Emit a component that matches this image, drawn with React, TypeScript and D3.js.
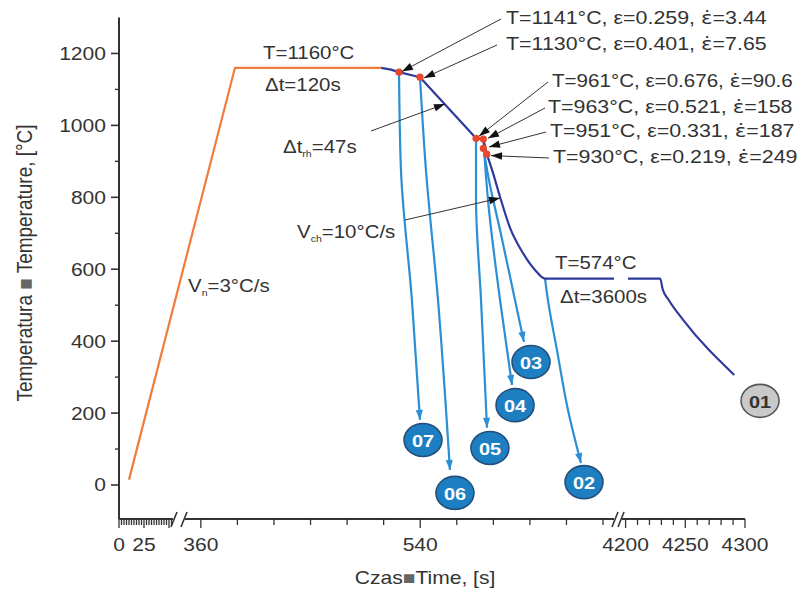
import * as d3 from 'd3'

const W = 797
const H = 594
const SX = 1.17 // the source picture is stretched sideways, text follows it
const FONT = '"Liberation Sans", Arial, sans-serif'

// broken time axis: 0..54 // 347..699 // 4197..4300
const T_DOMAIN = [0, 54, 347, 699, 4197, 4300]
const T_RANGE = [119, 173, 185, 614, 622, 745]

const Y_MAJOR = [0, 200, 400, 600, 800, 1000, 1200]
const Y_MINOR = [100, 300, 500, 700, 900, 1100]
const X_LABELS = [0, 25, 360, 540, 4200, 4250, 4300]
const X_MAJOR = [0, 25, 50, 360, 540, 4200, 4250, 4300]

// [time s, temperature °C]
const HEATING: [number, number][] = [[10, 15], [388, 1160], [508, 1160]]
const PATH_01_PASSES: [number, number][] = [
  [508, 1160], [516, 1155], [522.6, 1148], [539.8, 1134], [585.8, 964], [591.8, 962], [594.6, 920],
]
const PATH_01_COOL: [number, number][] = [
  [594.6, 920], [599.7, 868], [605.5, 801], [613.7, 715], [624.3, 645], [634.2, 598],
  [642.4, 574], [699, 574],
]
const PATH_01_HOLD: [number, number][] = [
  [4202, 574], [4229, 574], [4231, 545], [4236, 515], [4248, 460], [4291, 306],
]
const DEFORM_DOTS: [number, number][] = [
  [522.6, 1148], [539.8, 1134], [585.8, 964], [591.8, 962], [591.8, 936], [594.6, 920],
]

const QUENCH_IDS = ['07', '06', '05', '04', '03', '02']
const QUENCH_PATHS: [number, number][][] = [
  [[522.6, 1148], [524.2, 876], [533.2, 514], [539.8, 181]],
  [[539.8, 1134], [544.7, 876], [554.6, 514], [564.4, 42]],
  [[585.8, 964], [585.8, 793], [589.9, 514], [594.8, 159]],
  [[591.8, 962], [595.6, 793], [605.5, 514], [615.3, 278]],
  [[591.8, 937], [597.2, 834], [605.5, 709], [617.8, 514], [625.1, 398]],
  [[642.4, 574], [644.8, 514], [652.2, 375], [661.2, 209], [671.9, 61]],
]
const BADGES: { id: string; t: number; T: number }[] = [
  { id: '07', t: 542.3, T: 125 },
  { id: '06', t: 568.5, T: -22 },
  { id: '05', t: 597.2, T: 103 },
  { id: '04', t: 617.8, T: 222 },
  { id: '03', t: 630.9, T: 342 },
  { id: '02', t: 674.4, T: 8 },
  { id: '01', t: 4312.6, T: 234 },
]

// deformation passes: temperature, strain, strain rate
const PASS_TEMP = ['1141', '1130', '961', '963', '951', '930']
const PASS_STRAIN = ['0.259', '0.401', '0.676', '0.521', '0.331', '0.219']
const PASS_RATE = ['3.44', '7.65', '90.6', '158', '187', '249']
// where each leader points to, in data units
const PASS_TIPS: [number, number][] = [
  [525.0, 1150], [543.1, 1132], [588.2, 970], [595.6, 964], [596.4, 940], [598.1, 916],
]
// label placement (px): text start x, centre y, leader start x
const PASS_POS = [
  [506, 18, 501], [506, 44, 497], [552, 81, 548], [548, 107, 545], [550, 131, 546], [553, 157, 549],
]

const C_ORANGE = '#ee7d3b'
const C_NAVY = '#2e3a9c'
const C_BLUE = '#2a8fd4'
const C_BADGE = '#1d7fc2'
const C_RED = '#e7472c'
const C_TEXT = '#333'

function head(tip: [number, number], from: [number, number], len = 10, half = 3.6): string {
  const dx = tip[0] - from[0], dy = tip[1] - from[1]
  const L = Math.hypot(dx, dy) || 1
  const ux = dx / L, uy = dy / L
  const bx = tip[0] - ux * len, by = tip[1] - uy * len
  return `M${tip[0]},${tip[1]}L${bx - uy * half},${by + ux * half}L${bx + uy * half},${by - ux * half}Z`
}

function Txt({ x, y, size, anchor = 'start', fill = C_TEXT, weight = 'normal', children }:
  { x: number, y: number, size: number, anchor?: string, fill?: string, weight?: string, children: any }) {
  return (
    <g transform={`translate(${x},${y}) scale(${SX},1)`}>
      <text x={0} y={0} fontSize={size} textAnchor={anchor} dominantBaseline="central"
        fill={fill} fontWeight={weight} fontFamily={FONT}>{children}</text>
    </g>
  )
}

export default function App() {
  const x = d3.scaleLinear().domain(T_DOMAIN).range(T_RANGE)
  const y = d3.scaleLinear().domain([0, 1300]).range([485, 17.5])
  const px = (d: [number, number]): [number, number] => [x(d[0]), y(d[1])]

  const lineLin = d3.line<[number, number]>().x(d => x(d[0])).y(d => y(d[1]))
  const lineX = d3.line<[number, number]>().x(d => x(d[0])).y(d => y(d[1])).curve(d3.curveMonotoneX)
  const lineY = d3.line<[number, number]>().x(d => x(d[0])).y(d => y(d[1])).curve(d3.curveMonotoneY)

  const axisY = 519
  const yAxisX = x(0)

  const seg1 = d3.range(0, 52.6, 2.5)
  const seg2 = d3.range(360, 691, 30)
  const seg3 = d3.range(4200, 4301, 10)
  const xTicks = [...seg1, ...seg2, ...seg3]

  const breaks = [[173, 185], [614, 622]]

  return (
    <svg width={W} height={H} style={{ position: 'absolute', left: 0, top: 0, background: '#fff' }}>
      {/* y axis */}
      <line x1={yAxisX} x2={yAxisX} y1={y(1300)} y2={axisY} stroke={C_TEXT} strokeWidth={2} />
      {Y_MAJOR.map(v => (
        <g key={'ym' + v}>
          <line x1={yAxisX - 8} x2={yAxisX} y1={y(v)} y2={y(v)} stroke={C_TEXT} strokeWidth={1.6} />
          <Txt x={106} y={y(v)} size={18} anchor="end">{v}</Txt>
        </g>
      ))}
      {Y_MINOR.map(v => (
        <line key={'yn' + v} x1={yAxisX - 4} x2={yAxisX} y1={y(v)} y2={y(v)} stroke={C_TEXT} strokeWidth={1.4} />
      ))}

      {/* broken x axis */}
      <line x1={T_RANGE[0]} x2={T_RANGE[1]} y1={axisY} y2={axisY} stroke={C_TEXT} strokeWidth={2} />
      <line x1={T_RANGE[2]} x2={T_RANGE[3]} y1={axisY} y2={axisY} stroke={C_TEXT} strokeWidth={2} />
      <line x1={T_RANGE[4]} x2={T_RANGE[5]} y1={axisY} y2={axisY} stroke={C_TEXT} strokeWidth={2} />
      {breaks.map(([a, b], i) => (
        <g key={'br' + i} stroke={C_TEXT} strokeWidth={1.6}>
          <line x1={a - 2} y1={axisY + 8} x2={a + 4} y2={axisY - 7} />
          <line x1={b - 4} y1={axisY + 8} x2={b + 2} y2={axisY - 7} />
        </g>
      ))}
      {xTicks.map((t, i) => (
        <line key={'xt' + i} x1={x(t)} x2={x(t)} y1={axisY}
          y2={axisY + (X_MAJOR.includes(t) ? 9 : 6)} stroke={C_TEXT} strokeWidth={1.3} />
      ))}
      {X_LABELS.map(t => (
        <Txt key={'xl' + t} x={x(t)} y={545} size={18} anchor="middle">{t}</Txt>
      ))}

      {/* axis titles */}
      <g transform={`translate(24,263) scale(${SX},1) rotate(-90)`}>
        <text x={0} y={0} fontSize={19} textAnchor="middle" dominantBaseline="central" fill={C_TEXT} fontFamily={FONT}>
          Temperatura <tspan fill="#666">■</tspan> Temperature, [°C]
        </text>
      </g>
      <Txt x={425} y={578} size={18} anchor="middle">
        Czas<tspan fill="#666">■</tspan>Time, [s]
      </Txt>

      {/* quench paths */}
      {QUENCH_PATHS.map((p, i) => {
        const n = p.length
        return (
          <g key={'q' + QUENCH_IDS[i]}>
            <path d={lineY(p) || ''} fill="none" stroke={C_BLUE} strokeWidth={2.2} />
            <path d={head(px(p[n - 1]), px(p[n - 2]))} fill={C_BLUE} />
          </g>
        )
      })}

      {/* main schedule */}
      <path d={lineLin(HEATING) || ''} fill="none" stroke={C_ORANGE} strokeWidth={2.2} />
      <path d={lineLin(PATH_01_PASSES) || ''} fill="none" stroke={C_NAVY} strokeWidth={2.2} strokeLinejoin="round" />
      <path d={lineX(PATH_01_COOL) || ''} fill="none" stroke={C_NAVY} strokeWidth={2.2} />
      <path d={lineX(PATH_01_HOLD) || ''} fill="none" stroke={C_NAVY} strokeWidth={2.2} />
      {DEFORM_DOTS.map((d, i) => (
        <circle key={'dot' + i} cx={x(d[0])} cy={y(d[1])} r={3.6} fill={C_RED} />
      ))}

      {/* pass labels with leaders */}
      {PASS_TEMP.map((temp, i) => {
        const [tx, ty, lx] = PASS_POS[i]
        const tip = px(PASS_TIPS[i])
        const from: [number, number] = [lx, ty + 1]
        return (
          <g key={'pl' + i}>
            <line x1={from[0]} y1={from[1]} x2={tip[0]} y2={tip[1]} stroke={C_TEXT} strokeWidth={1} />
            <path d={head(tip, from, 11, 3.8)} fill="#111" />
            <Txt x={tx} y={ty} size={i === 2 ? 17.6 : 18.3}>
              {`T=${temp}°C, ε=${PASS_STRAIN[i]}, `}
              <tspan fontFamily='"DejaVu Sans"'>ε̇</tspan>
              {`=${PASS_RATE[i]}`}
            </Txt>
          </g>
        )
      })}

      {/* process annotations */}
      <Txt x={263} y={53} size={17.5}>T=1160°C</Txt>
      <Txt x={265} y={85} size={17.5}>Δt=120s</Txt>
      <Txt x={283} y={147} size={17.5}>Δt<tspan fontSize={9} dy={6}>rh</tspan><tspan dy={-6}>=47s</tspan></Txt>
      <Txt x={297} y={232} size={17.5}>V<tspan fontSize={9} dy={6}>ch</tspan><tspan dy={-6}>=10°C/s</tspan></Txt>
      <Txt x={188} y={286} size={17.5}>V<tspan fontSize={9} dy={6}>n</tspan><tspan dy={-6}>=3°C/s</tspan></Txt>
      <Txt x={555} y={263} size={17.5}>T=574°C</Txt>
      <Txt x={560} y={297} size={17.5}>Δt=3600s</Txt>
      {[
        { from: [371, 131] as [number, number], tip: [560.3, 1059.5] as [number, number] },
        { from: [405, 220] as [number, number], tip: [605.5, 798] as [number, number] },
      ].map((a, i) => {
        const tip = px(a.tip)
        return (
          <g key={'ann' + i}>
            <line x1={a.from[0]} y1={a.from[1]} x2={tip[0]} y2={tip[1]} stroke={C_TEXT} strokeWidth={1} />
            <path d={head(tip, a.from, 11, 3.8)} fill="#111" />
          </g>
        )
      })}

      {/* sample badges */}
      {BADGES.map(b => {
        const grey = b.id === '01'
        return (
          <g key={'b' + b.id}>
            <ellipse cx={x(b.t)} cy={y(b.T)} rx={19} ry={16.5}
              fill={grey ? '#c9c9c9' : C_BADGE} stroke={grey ? '#555' : '#23507a'} strokeWidth={1.6} />
            <Txt x={x(b.t)} y={y(b.T) + 1} size={17} anchor="middle" weight="bold"
              fill={grey ? '#333' : '#fff'}>{b.id}</Txt>
          </g>
        )
      })}
    </svg>
  )
}
